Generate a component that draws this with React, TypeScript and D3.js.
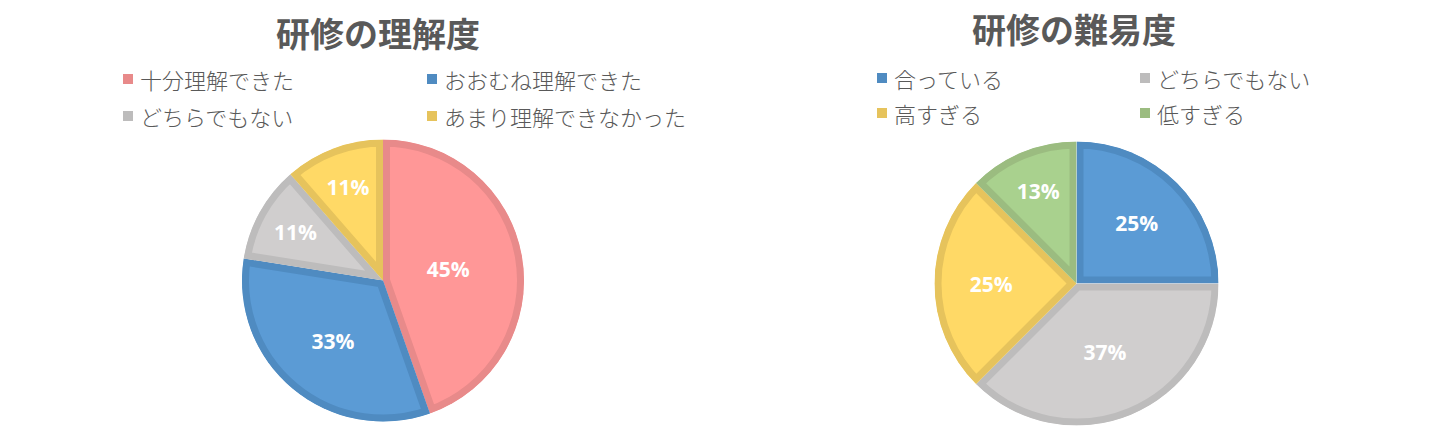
import * as d3 from "d3";

// 研修の理解度
const understandCats = ["十分理解できた", "おおむね理解できた", "どちらでもない", "あまり理解できなかった"];
const understandValues = [44.6, 32.9, 11.1, 11.4];
const understandLabels = ["45%", "33%", "11%", "11%"];

// 研修の難易度
const difficultyCats = ["合っている", "どちらでもない", "高すぎる", "低すぎる"];
const difficultyValues = [25, 37.5, 25, 12.5];
const difficultyLabels = ["25%", "37%", "25%", "13%"];

const fills: Record<string, string> = {
  pink: "#FF9797",
  blue: "#5B9BD5",
  gray: "#D0CECE",
  yellow: "#FFD966",
  green: "#A9D18E",
};
const strokes: Record<string, string> = {
  pink: "#E88A8A",
  blue: "#4F8BC1",
  gray: "#BDBCBC",
  yellow: "#E6C35C",
  green: "#9BBC80",
};

const understandColors = ["pink", "blue", "gray", "yellow"];
const difficultyColors = ["blue", "gray", "yellow", "green"];

const TEXT = "#595959";
const JP = "'Noto Sans CJK JP', 'Noto Sans', sans-serif";

type PieProps = {
  id: string;
  title: string;
  titleX: number;
  titleY: number;
  cx: number;
  cy: number;
  r: number;
  cats: string[];
  values: number[];
  labels: string[];
  colors: string[];
  legendCols: number[];
  legendRows: number[];
};

function PieChart(p: PieProps) {
  const pie = d3.pie<number>().sort(null).value((d) => d);
  const arcs = pie(p.values);
  const arc = d3.arc<d3.PieArcDatum<number>>().innerRadius(0).outerRadius(p.r);

  return (
    <g>
      <text
        x={p.titleX}
        y={p.titleY}
        textAnchor="middle"
        fontFamily={JP}
        fontWeight="bold"
        fontSize={34}
        fill={TEXT}
      >
        {p.title}
      </text>

      {/* legend: 2 columns x 2 rows */}
      {p.cats.map((c, i) => {
        const x = p.legendCols[i % 2];
        const y = p.legendRows[Math.floor(i / 2)];
        return (
          <g key={c} transform={`translate(${x},${y})`}>
            <rect x={0} y={-5} width={10} height={10} fill={strokes[p.colors[i]]} />
            <text
              x={17}
              y={0}
              dominantBaseline="central"
              fontFamily={JP}
              fontWeight={300}
              fontSize={22}
              fill={TEXT}
            >
              {c}
            </text>
          </g>
        );
      })}

      <g transform={`translate(${p.cx},${p.cy})`}>
        <defs>
          {arcs.map((a, i) => (
            <clipPath id={`${p.id}-clip-${i}`} key={i}>
              <path d={arc(a) ?? ""} />
            </clipPath>
          ))}
        </defs>
        {arcs.map((a, i) => (
          <path
            key={i}
            d={arc(a) ?? ""}
            fill={fills[p.colors[i]]}
            stroke={strokes[p.colors[i]]}
            strokeWidth={14}
            clipPath={`url(#${p.id}-clip-${i})`}
          />
        ))}
        {arcs.map((a, i) => {
          // label at the sector's area centroid
          const theta = a.endAngle - a.startAngle;
          const mid = (a.startAngle + a.endAngle) / 2;
          const dist = (4 * p.r * Math.sin(theta / 2)) / (3 * theta) + (theta < 1 ? 8 : 0);
          return (
            <text
              key={i}
              x={Math.sin(mid) * dist}
              y={-Math.cos(mid) * dist}
              textAnchor="middle"
              dominantBaseline="central"
              fontFamily="'Open Sans', 'Noto Sans', sans-serif"
              fontWeight="bold"
              fontSize={21}
              fill="#ffffff"
            >
              {p.labels[i]}
            </text>
          );
        })}
      </g>
    </g>
  );
}

export default function App() {
  return (
    <svg
      width={1449}
      height={445}
      style={{ position: "absolute", left: 0, top: 0, background: "#fff" }}
    >
      <PieChart
        id="understand"
        title="研修の理解度"
        titleX={378}
        titleY={47}
        cx={383}
        cy={280.5}
        r={141}
        cats={understandCats}
        values={understandValues}
        labels={understandLabels}
        colors={understandColors}
        legendCols={[123, 427]}
        legendRows={[79, 116]}
      />
      <PieChart
        id="difficulty"
        title="研修の難易度"
        titleX={1074}
        titleY={43}
        cx={1076.5}
        cy={283.5}
        r={142}
        cats={difficultyCats}
        values={difficultyValues}
        labels={difficultyLabels}
        colors={difficultyColors}
        legendCols={[877, 1140]}
        legendRows={[78, 113]}
      />
    </svg>
  );
}
